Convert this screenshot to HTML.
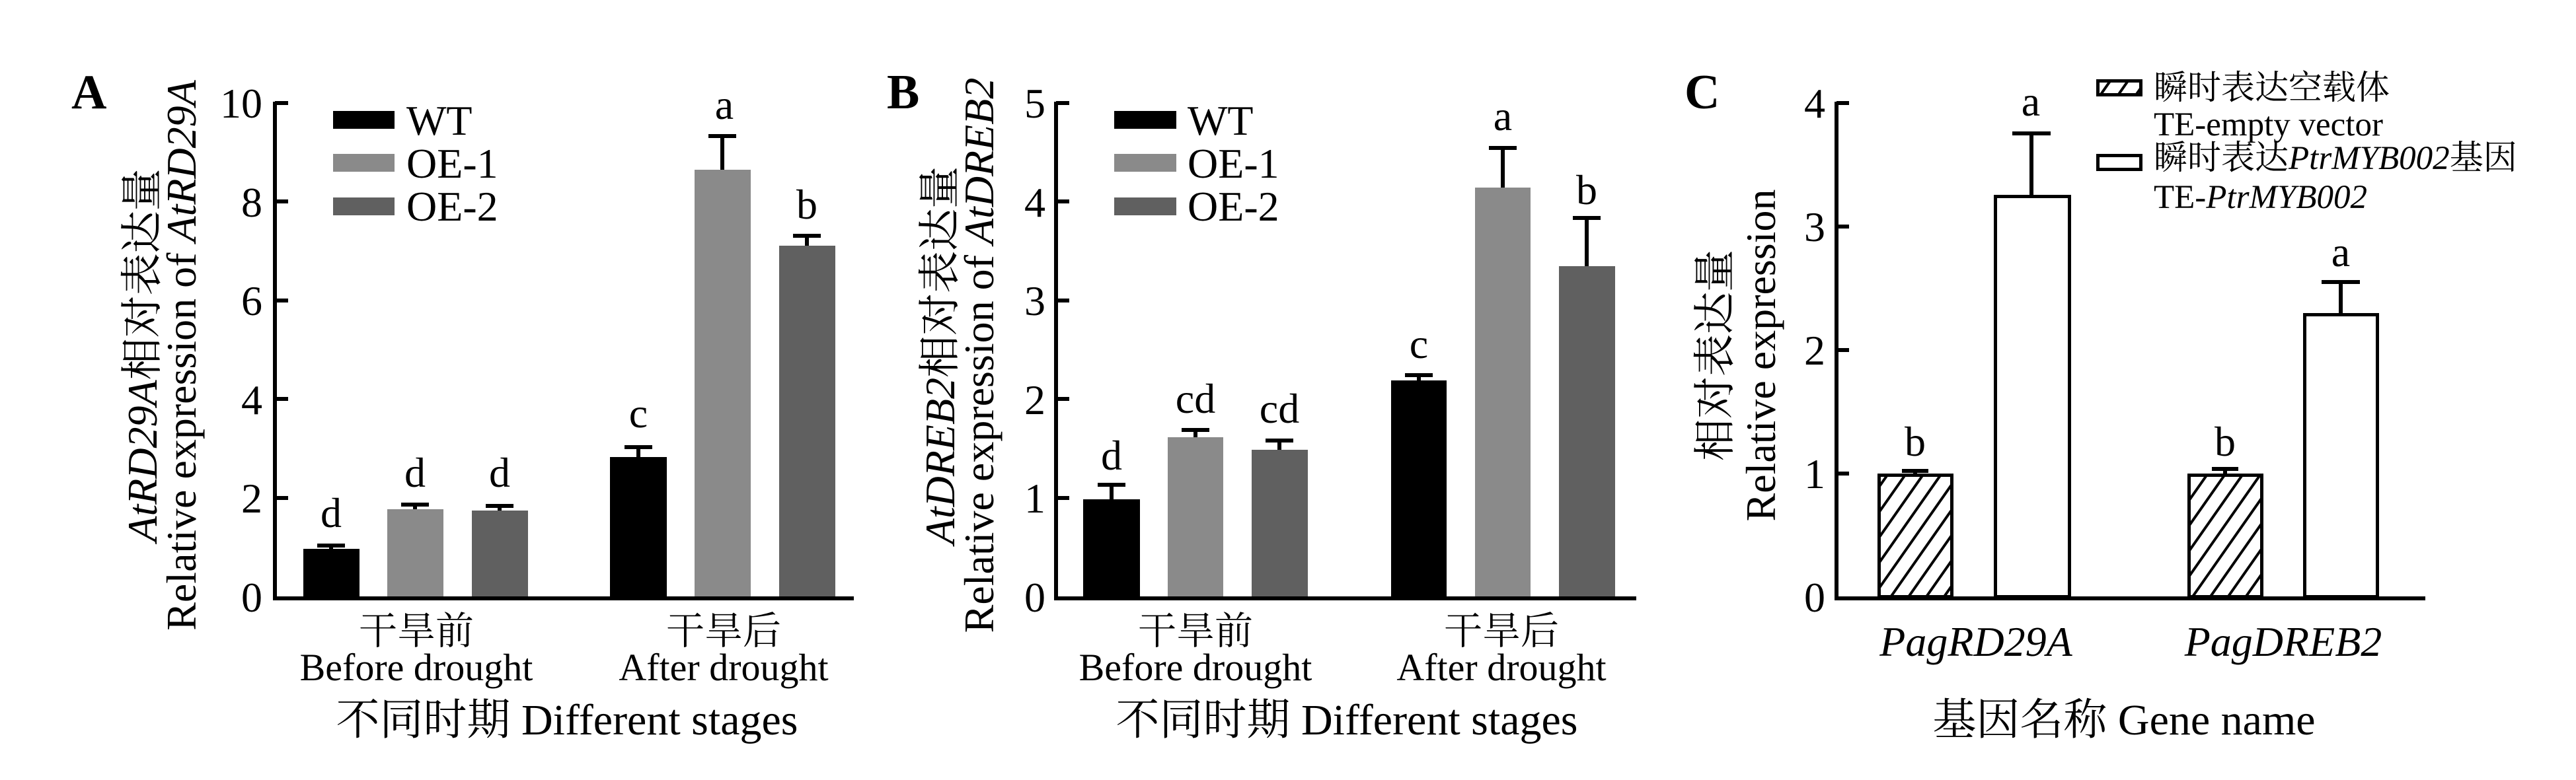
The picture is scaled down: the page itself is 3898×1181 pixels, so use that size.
<!DOCTYPE html>
<html><head><meta charset="utf-8"><style>
html,body{margin:0;padding:0;background:#fff}
svg{display:block}
text{font-family:"Liberation Serif","Noto Serif CJK SC",serif;fill:#000}
.t{font-size:64px}
.it{font-style:italic}
</style></head><body>
<svg width="3898" height="1181" viewBox="0 0 3898 1181" xmlns="http://www.w3.org/2000/svg">
<defs>
<pattern id="h" patternUnits="userSpaceOnUse" width="22" height="22" patternTransform="rotate(35)">
<rect width="22" height="22" fill="#fff"/><rect x="0" y="0" width="4" height="22" fill="#000"/>
</pattern>
</defs>

<!-- ===== Panel A ===== -->
<text x="108" y="164" style="font-size:74px;font-weight:bold">A</text>
<g stroke="#000" stroke-width="6" fill="none">
<path d="M416 154V906H1292"/>
<path d="M416 156h20M416 305h20M416 455h20M416 604h20M416 754h20"/>
</g>
<g class="t" text-anchor="end">
<text x="397" y="178">10</text><text x="397" y="328">8</text><text x="397" y="477">6</text>
<text x="397" y="627">4</text><text x="397" y="776">2</text><text x="397" y="926">0</text>
</g>
<rect x="459" y="831" width="85" height="72" fill="#000"/>
<rect x="586" y="771" width="85" height="132" fill="#8a8a8a"/>
<rect x="714" y="773" width="85" height="130" fill="#606060"/>
<rect x="923" y="692" width="86" height="211" fill="#000"/>
<rect x="1051" y="257" width="85" height="646" fill="#8a8a8a"/>
<rect x="1179" y="372" width="85" height="531" fill="#606060"/>
<g stroke="#000" stroke-width="6">
<path d="M501 831V826M480 826h42"/>
<path d="M628 771V764M607 764h42"/>
<path d="M756 773V766M735 766h42"/>
<path d="M966 692V677M945 677h42"/>
<path d="M1093 257V206M1072 206h42"/>
<path d="M1221 372V357M1200 357h42"/>
</g>
<g class="t" text-anchor="middle">
<text x="501" y="798">d</text><text x="628" y="737">d</text><text x="756" y="737">d</text>
<text x="966" y="647">c</text><text x="1096" y="180">a</text><text x="1221" y="331">b</text>
</g>
<rect x="504" y="168" width="93" height="27" fill="#000"/>
<rect x="504" y="233" width="93" height="27" fill="#8a8a8a"/>
<rect x="504" y="299" width="93" height="27" fill="#606060"/>
<g class="t"><text x="615" y="204">WT</text><text x="615" y="269">OE-1</text><text x="615" y="334">OE-2</text></g>
<g class="t" text-anchor="middle" style="font-size:58px">
<text x="630" y="975">干旱前</text><text x="630" y="1030">Before drought</text>
<text x="1095" y="975">干旱后</text><text x="1095" y="1030">After drought</text>
</g>
<text x="858" y="1112" text-anchor="middle" style="font-size:66px">不同时期 Different stages</text>
<g text-anchor="middle" class="t">
<text transform="translate(237,538) rotate(-90)"><tspan class="it">AtRD29A</tspan>相对表达量</text>
<text transform="translate(296,538) rotate(-90)">Relative expression of <tspan class="it">AtRD29A</tspan></text>
</g>

<!-- ===== Panel B ===== -->
<text x="1342" y="164" style="font-size:74px;font-weight:bold">B</text>
<g stroke="#000" stroke-width="6" fill="none">
<path d="M1598 154V906H2476"/>
<path d="M1598 156h20M1598 305h20M1598 455h20M1598 604h20M1598 754h20"/>
</g>
<g class="t" text-anchor="end">
<text x="1582" y="178">5</text><text x="1582" y="328">4</text><text x="1582" y="477">3</text>
<text x="1582" y="627">2</text><text x="1582" y="776">1</text><text x="1582" y="926">0</text>
</g>
<rect x="1639" y="756" width="86" height="147" fill="#000"/>
<rect x="1767" y="662" width="84" height="241" fill="#8a8a8a"/>
<rect x="1894" y="681" width="85" height="222" fill="#606060"/>
<rect x="2105" y="576" width="84" height="327" fill="#000"/>
<rect x="2232" y="284" width="84" height="619" fill="#8a8a8a"/>
<rect x="2359" y="403" width="85" height="500" fill="#606060"/>
<g stroke="#000" stroke-width="6">
<path d="M1682 756V734M1661 734h42"/>
<path d="M1809 662V651M1788 651h42"/>
<path d="M1936 681V667M1915 667h42"/>
<path d="M2147 576V568M2126 568h42"/>
<path d="M2274 284V224M2253 224h42"/>
<path d="M2401 403V330M2380 330h42"/>
</g>
<g class="t" text-anchor="middle">
<text x="1682" y="711">d</text><text x="1809" y="625">cd</text><text x="1936" y="640">cd</text>
<text x="2147" y="542">c</text><text x="2274" y="197">a</text><text x="2401" y="309">b</text>
</g>
<rect x="1686" y="168" width="94" height="27" fill="#000"/>
<rect x="1686" y="233" width="94" height="27" fill="#8a8a8a"/>
<rect x="1686" y="299" width="94" height="27" fill="#606060"/>
<g class="t"><text x="1797" y="204">WT</text><text x="1797" y="269">OE-1</text><text x="1797" y="334">OE-2</text></g>
<g class="t" text-anchor="middle" style="font-size:58px">
<text x="1809" y="975">干旱前</text><text x="1809" y="1030">Before drought</text>
<text x="2272" y="975">干旱后</text><text x="2272" y="1030">After drought</text>
</g>
<text x="2038" y="1112" text-anchor="middle" style="font-size:66px">不同时期 Different stages</text>
<g text-anchor="middle" class="t">
<text transform="translate(1444,538) rotate(-90)"><tspan class="it">AtDREB2</tspan>相对表达量</text>
<text transform="translate(1503,538) rotate(-90)">Relative expression of <tspan class="it">AtDREB2</tspan></text>
</g>

<!-- ===== Panel C ===== -->
<text x="2549" y="164" style="font-size:74px;font-weight:bold">C</text>
<g stroke="#000" stroke-width="6" fill="none">
<path d="M2779 154V906H3670"/>
<path d="M2779 156h19M2779 343h19M2779 530h19M2779 717h19"/>
</g>
<g class="t" text-anchor="end">
<text x="2762" y="178">4</text><text x="2762" y="365">3</text><text x="2762" y="552">2</text>
<text x="2762" y="739">1</text><text x="2762" y="926">0</text>
</g>
<g stroke="#000" stroke-width="5">
<rect x="2843.5" y="719.5" width="110" height="184" fill="url(#h)"/>
<rect x="3019.5" y="297.5" width="112" height="606" fill="#fff"/>
<rect x="3312.5" y="719.5" width="110" height="184" fill="url(#h)"/>
<rect x="3487.5" y="476.5" width="110" height="427" fill="#fff"/>
</g>
<g stroke="#000" stroke-width="6">
<path d="M2898 717V713M2878 713h40"/>
<path d="M3074 295V202M3045 202h58"/>
<path d="M3367 717V710M3347 710h40"/>
<path d="M3542 474V427M3513 427h58"/>
</g>
<g class="t" text-anchor="middle">
<text x="2898" y="690">b</text><text x="3073" y="175">a</text>
<text x="3367" y="690">b</text><text x="3542" y="403">a</text>
</g>
<rect x="3174.5" y="122.5" width="65" height="21" fill="url(#h)" stroke="#000" stroke-width="5"/>
<rect x="3174.5" y="235.5" width="65" height="21" fill="#fff" stroke="#000" stroke-width="5"/>
<g style="font-size:51px">
<text x="3259" y="150">瞬时表达空载体</text>
<text x="3259" y="205">TE-empty vector</text>
<text x="3259" y="256">瞬时表达<tspan class="it">PtrMYB002</tspan>基因</text>
<text x="3259" y="315">TE-<tspan class="it">PtrMYB002</tspan></text>
</g>
<g class="t it" text-anchor="middle">
<text x="2990" y="993">PagRD29A</text><text x="3455" y="993">PagDREB2</text>
</g>
<text x="3214" y="1112" text-anchor="middle" style="font-size:66px">基因名称 Gene name</text>
<g text-anchor="middle" class="t">
<text transform="translate(2617,538) rotate(-90)">相对表达量</text>
<text transform="translate(2686,538) rotate(-90)">Relative expression</text>
</g>
</svg>
</body></html>
